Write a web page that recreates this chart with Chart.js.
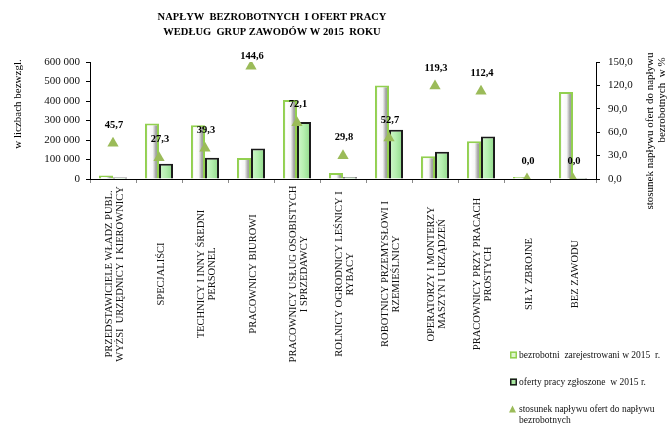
<!DOCTYPE html>
<html>
<head>
<meta charset="utf-8">
<script src="https://cdn.jsdelivr.net/npm/chart.js@4.4.1/dist/chart.umd.min.js"></script>
<style>
  html, body { margin: 0; padding: 0; background: #fff; }
  #wrap { position: relative; width: 669px; height: 424px; }
</style>
</head>
<body>
<div id="wrap"><canvas id="chart"></canvas></div>
<script>
// grupy zawodów (kolejne linie etykiety osi X)
const categories = [
    ['PRZEDSTAWICIELE WŁADZ PUBL.', 'WYŻSI  URZĘDNICY I KIEROWNICY'],
    ['SPECJALIŚCI'],
    ['TECHNICY I INNY ŚREDNI', 'PERSONEL'],
    ['PRACOWNICY BIUROWI'],
    ['PRACOWNICY USŁUG OSOBISTYCH', 'I SPRZEDAWCY'],
    ['ROLNICY OGRODNICY LEŚNICY I', 'RYBACY'],
    ['ROBOTNICY PRZEMYSŁOWI I', 'RZEMIEŚLNICY'],
    ['OPERATORZY I MONTERZY', 'MASZYN I URZĄDZEŃ'],
    ['PRACOWNICY PRZY PRACACH', 'PROSTYCH'],
    ['SIŁY ZBROJNE'],
    ['BEZ ZAWODU']
];

const bezrobotni = [18000, 285000, 276000, 108000, 405000, 31000, 480000, 117000, 194000, 1500, 446000];
const oferty = [8200, 77800, 108500, 156200, 292000, 9200, 253000, 139600, 218100, 0, 200];
const stosunek = [45.7, 27.3, 39.3, 144.6, 72.1, 29.8, 52.7, 119.3, 112.4, 0.0, 0.0];

const leftTicks = [0, 100000, 200000, 300000, 400000, 500000, 600000];
const rightTicks = [0, 30, 60, 90, 120, 150];

const titleLines = ['NAPŁYW  BEZROBOTNYCH  I OFERT PRACY', 'WEDŁUG  GRUP ZAWODÓW W 2015  ROKU'];
const leftTitle = 'w liczbach bezwzgl.';
const rightTitle = ['stosunek napływu ofert do napływu', 'bezrobotnych  w %'];

const SERIF = "'Liberation Serif', 'Times New Roman', serif";
const CAT_PCT = 0.61;
const GREEN = '#9bbb59';

Chart.defaults.font.family = SERIF;
Chart.defaults.color = '#111';

// poziomy gradient wypełnienia słupka (efekt walca)
function barGradient(stops, side, fallback) {
    return (context) => {
        const chart = context.chart;
        const xs = chart.scales.x;
        if (!xs || context.dataIndex === undefined || !isFinite(xs.width)) return fallback;
        const step = xs.width / categories.length;
        const half = step * CAT_PCT / 2;
        const center = xs.getPixelForValue(context.dataIndex);
        const left = side === 0 ? center - half : center;
        if (!isFinite(left)) return fallback;
        const g = chart.ctx.createLinearGradient(left, 0, left + half, 0);
        stops.forEach(([o, c]) => g.addColorStop(o, c));
        return g;
    };
}

const fmtSpace = (v) => String(v).replace(/\B(?=(\d{3})+(?!\d))/g, ' ');
const fmtComma = (v) => v.toFixed(1).replace('.', ',');

function rotatedLines(ctx, lines, cx, cy, lh) {
    ctx.save();
    ctx.translate(cx, cy);
    ctx.rotate(-Math.PI / 2);
    ctx.textAlign = 'center';
    ctx.textBaseline = 'middle';
    lines.forEach((t, i) => ctx.fillText(t, 0, (i - (lines.length - 1) / 2) * lh));
    ctx.restore();
}

const overlay = {
    id: 'overlay',
    afterDatasetsDraw(chart) {
        // wartości stosunku nad trójkątami (nie wyżej niż tuż nad obszarem wykresu)
        const ctx = chart.ctx;
        const meta = chart.getDatasetMeta(0);
        const minY = chart.chartArea.top - 6;
        ctx.save();
        ctx.font = 'bold 10.5px ' + SERIF;
        ctx.fillStyle = '#000';
        ctx.textAlign = 'center';
        ctx.textBaseline = 'middle';
        meta.data.forEach((pt, i) => {
            ctx.fillText(fmtComma(stosunek[i]), pt.x + 1, Math.max(pt.y - 18, minY));
        });
        ctx.restore();
    },
    afterDraw(chart) {
        const ctx = chart.ctx;
        const xs = chart.scales.x;
        ctx.save();
        ctx.fillStyle = '#000';

        // tytuł
        ctx.font = 'bold 10.5px ' + SERIF;
        ctx.textAlign = 'center';
        ctx.textBaseline = 'middle';
        titleLines.forEach((t, i) => ctx.fillText(t, 272, 17 + i * 15));

        // tytuły osi
        ctx.font = '11px ' + SERIF;
        rotatedLines(ctx, [leftTitle], 18, 104, 12);
        rotatedLines(ctx, [rightTitle[0]], 650, 131, 12);
        rotatedLines(ctx, [rightTitle[1]], 662, 100, 12);

        // etykiety kategorii, obrócone, wyśrodkowane
        ctx.font = '10.5px ' + SERIF;
        ctx.fillStyle = '#111';
        categories.forEach((lines, i) => {
            const cx = xs.getPixelForValue(i) + 2;
            const w = Math.max(...lines.map((t) => ctx.measureText(t).width));
            let cy = 274;
            if (cy - w / 2 < 184) cy = 184 + w / 2;
            rotatedLines(ctx, lines, cx, cy, 11);
        });

        // legenda
        const ds = chart.data.datasets;
        ctx.font = '9.5px ' + SERIF;
        ctx.textAlign = 'left';
        ctx.textBaseline = 'middle';
        const items = [
            { d: ds[1], y: 355 },
            { d: ds[2], y: 382 },
            { d: ds[0], y: 409 }
        ];
        items.forEach(({ d, y }) => {
            if (d.type === 'line') {
                ctx.fillStyle = GREEN;
                ctx.beginPath();
                ctx.moveTo(509, y + 3.5);
                ctx.lineTo(516, y + 3.5);
                ctx.lineTo(512.5, y - 3.5);
                ctx.closePath();
                ctx.fill();
            } else {
                ctx.fillStyle = d.legendFill;
                ctx.fillRect(510, y - 3.5, 7, 7);
                ctx.strokeStyle = d.borderColor;
                ctx.lineWidth = 1.5;
                ctx.strokeRect(510.75, y - 2.75, 5.5, 5.5);
            }
            ctx.fillStyle = '#111';
            d.legendLines.forEach((t, k) => ctx.fillText(t, 519, y + k * 11));
        });
        ctx.restore();
    }
};

new Chart(document.getElementById('chart'), {
    type: 'bar',
    data: {
        labels: categories.map((l) => l.join(' ')),
        datasets: [
            {
                type: 'line',
                label: 'stosunek napływu ofert do napływu bezrobotnych',
                legendLines: ['stosunek napływu ofert do napływu', 'bezrobotnych'],
                data: stosunek,
                yAxisID: 'y1',
                showLine: false,
                pointStyle: 'triangle',
                pointRadius: 6.5,
                pointBackgroundColor: GREEN,
                pointBorderColor: GREEN,
                pointBorderWidth: 0,
                order: 0
            },
            {
                label: 'bezrobotni  zarejestrowani w 2015  r.',
                legendLines: ['bezrobotni  zarejestrowani w 2015  r.'],
                legendFill: '#dff5d0',
                data: bezrobotni,
                yAxisID: 'y',
                backgroundColor: barGradient([[0, '#e4e4e4'], [0.25, '#ffffff'], [0.55, '#f7f7f7'], [0.8, '#9a9a9a'], [1, '#dcdcdc']], 0, '#eeeeee'),
                borderColor: '#92d050',
                borderWidth: 2,
                minBarLength: 2,
                categoryPercentage: CAT_PCT,
                barPercentage: 1,
                order: 1
            },
            {
                label: 'oferty pracy zgłoszone  w 2015 r.',
                legendLines: ['oferty pracy zgłoszone  w 2015 r.'],
                legendFill: '#a8e8a0',
                data: oferty,
                yAxisID: 'y',
                backgroundColor: barGradient([[0, '#d2f8cd'], [0.5, '#b4efae'], [1, '#8cd786']], 1, '#b4efae'),
                borderColor: '#1b1b1b',
                borderWidth: 2,
                categoryPercentage: CAT_PCT,
                barPercentage: 1,
                order: 1
            }
        ]
    },
    options: {
        responsive: true,
        maintainAspectRatio: false,
        animation: false,
        layout: { padding: { top: 62, left: 0, right: 0, bottom: 0 } },
        plugins: {
            legend: { display: false },
            title: { display: false },
            tooltip: { enabled: false }
        },
        scales: {
            x: {
                offset: true,
                grid: { offset: true, drawOnChartArea: false, drawTicks: true, tickLength: 4, color: '#8a8a8a' },
                border: { display: true, color: '#000', width: 1 },
                ticks: { display: false },
                afterFit: (s) => { s.height = 424 - 179; }
            },
            y: {
                position: 'left',
                min: 0, max: 600000,
                afterBuildTicks: (s) => { s.ticks = leftTicks.map((v) => ({ value: v })); },
                grid: { drawOnChartArea: false, drawTicks: true, tickLength: 4, color: '#000' },
                border: { display: true, color: '#000', width: 1 },
                ticks: { padding: 6, color: '#111', font: { size: 11 }, callback: (v) => fmtSpace(v) },
                afterFit: (s) => { s.width = 90; }
            },
            y1: {
                position: 'right',
                min: 0, max: 150,
                afterBuildTicks: (s) => { s.ticks = rightTicks.map((v) => ({ value: v })); },
                grid: { drawOnChartArea: false, drawTicks: true, tickLength: 4, color: '#000' },
                border: { display: true, color: '#000', width: 1 },
                ticks: { padding: 8, color: '#111', font: { size: 11 }, callback: (v) => fmtComma(v) },
                afterFit: (s) => { s.width = 669 - 596; }
            }
        }
    },
    plugins: [overlay]
});
</script>
</body>
</html>
